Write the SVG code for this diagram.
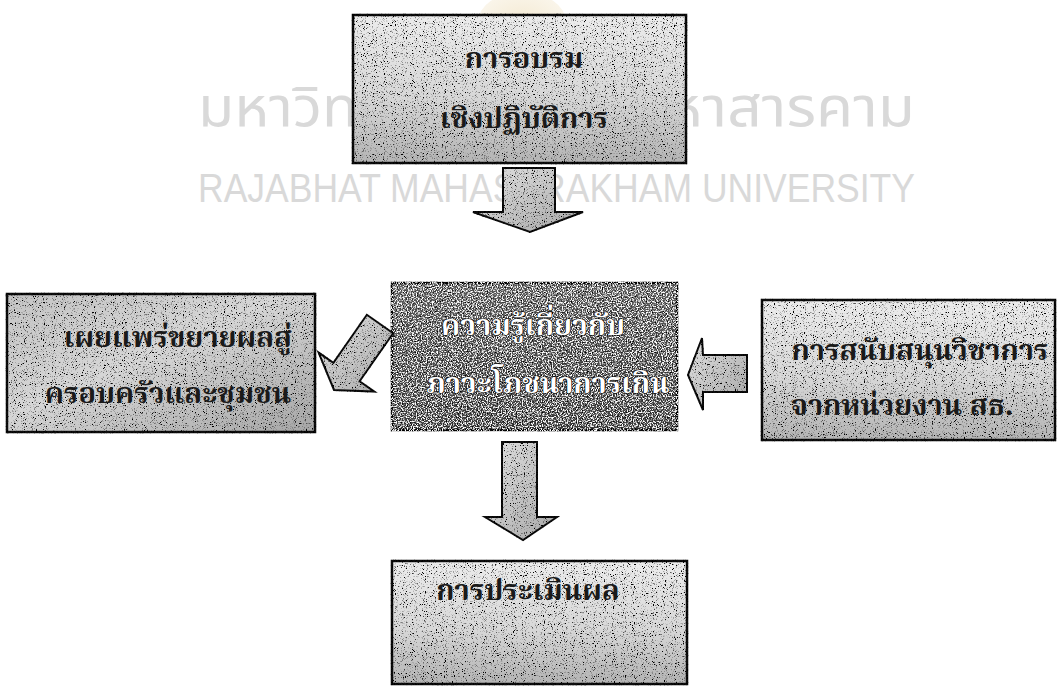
<svg xmlns="http://www.w3.org/2000/svg" width="1059" height="692" viewBox="0 0 1059 692">
  <style>
    .wm { font-family: "Noto Sans Thai", "Loma", "Garuda", "Liberation Sans", sans-serif; font-size: 56px; fill: #d9d9d9; }
    .wm-en { font-family: "Liberation Sans", Arial, sans-serif; font-size: 40px; fill: #d9d9d9; }
    .box { stroke: #111; stroke-width: 2.5; }
    .label { font-family: "Noto Serif Thai", "Noto Sans Thai", "Norasi", "Garuda", "Liberation Serif", serif; font-weight: bold; font-size: 29px; text-anchor: middle; fill: #1a1a1a; }
    .label-inv { fill: #ffffff; stroke: #000; stroke-width: 1.2px; paint-order: stroke; }
    .arrow { fill: url(#arrowFill); stroke: #111; stroke-width: 2; stroke-linejoin: miter; filter: url(#speckle); }
  </style>
  <defs>
    <linearGradient id="lightFill" x1="0" y1="0" x2="0" y2="1">
      <stop offset="0" stop-color="#ececec"/>
      <stop offset="0.55" stop-color="#d8d8d8"/>
      <stop offset="1" stop-color="#b4b4b4"/>
    </linearGradient>
    <linearGradient id="midFill" x1="0" y1="0" x2="1" y2="1">
      <stop offset="0" stop-color="#c4c4c4"/>
      <stop offset="0.45" stop-color="#d6d6d6"/>
      <stop offset="1" stop-color="#a6a6a6"/>
    </linearGradient>
    <linearGradient id="darkFill" x1="0" y1="0" x2="0" y2="1">
      <stop offset="0" stop-color="#5e5e5e"/>
      <stop offset="1" stop-color="#404040"/>
    </linearGradient>
    <linearGradient id="arrowFill" x1="0" y1="0" x2="1" y2="1">
      <stop offset="0" stop-color="#e2e2e2"/>
      <stop offset="1" stop-color="#a8a8a8"/>
    </linearGradient>
    <radialGradient id="emblemFill">
      <stop offset="0" stop-color="#f4ead3"/>
      <stop offset="1" stop-color="#faf5ea"/>
    </radialGradient>
    <!-- dark speckles laid over the shape's own paint -->
    <filter id="speckle" x="-0.05" y="-0.05" width="1.1" height="1.1">
      <feTurbulence type="fractalNoise" baseFrequency="0.9" numOctaves="2" seed="4" result="noise"/>
      <feColorMatrix in="noise" type="matrix" values="0 0 0 0 0  0 0 0 0 0  0 0 0 0 0  -6 0 0 0 2.6" result="dots"/>
      <feComposite in="dots" in2="SourceAlpha" operator="in" result="clipped"/>
      <feMerge>
        <feMergeNode in="SourceGraphic"/>
        <feMergeNode in="clipped"/>
      </feMerge>
    </filter>
    <!-- light and dark speckles for the dark box -->
    <filter id="speckleDark" x="-0.05" y="-0.05" width="1.1" height="1.1">
      <feTurbulence type="fractalNoise" baseFrequency="0.8" numOctaves="2" seed="9" result="noise"/>
      <feColorMatrix in="noise" type="matrix" values="0 0 0 0 1  0 0 0 0 1  0 0 0 0 1  5 0 0 0 -2.4" result="white"/>
      <feColorMatrix in="noise" type="matrix" values="0 0 0 0 0  0 0 0 0 0  0 0 0 0 0  -5 0 0 0 2.2" result="black"/>
      <feComposite in="white" in2="SourceAlpha" operator="in" result="w"/>
      <feComposite in="black" in2="SourceAlpha" operator="in" result="b"/>
      <feMerge>
        <feMergeNode in="SourceGraphic"/>
        <feMergeNode in="w"/>
        <feMergeNode in="b"/>
      </feMerge>
    </filter>
  </defs>

  <rect width="1059" height="692" fill="#ffffff"/>

  <!-- background watermark: emblem and university name, partly covered by the boxes -->
  <g id="watermark">
    <ellipse cx="522" cy="22" rx="44" ry="30" fill="url(#emblemFill)"/>
    <text class="wm" x="198" y="126" textLength="160" lengthAdjust="spacingAndGlyphs">มหาวิท</text>
    <text class="wm" x="667" y="126" textLength="248" lengthAdjust="spacingAndGlyphs">หาสารคาม</text>
    <text class="wm-en" x="198" y="202" textLength="717" lengthAdjust="spacingAndGlyphs">RAJABHAT MAHASARAKHAM UNIVERSITY</text>
  </g>

  <!-- nodes -->
  <g id="node-training">
    <rect class="box" x="353" y="15" width="333" height="148" fill="url(#lightFill)" filter="url(#speckle)"/>
    <text class="label" x="524" y="68">การอบรม</text>
    <text class="label" x="524" y="128">เชิงปฏิบัติการ</text>
  </g>

  <g id="node-knowledge">
    <rect class="box" x="392" y="283" width="285" height="147" fill="url(#darkFill)" filter="url(#speckleDark)"/>
    <text class="label label-inv" x="533" y="335">ความรู้เกี่ยวกับ</text>
    <text class="label label-inv" x="548" y="393">ภาวะโภชนาการเกิน</text>
  </g>

  <g id="node-dissemination">
    <rect class="box" x="7" y="294" width="308" height="138" fill="url(#midFill)" filter="url(#speckle)"/>
    <text class="label" x="178" y="347">เผยแพร่ขยายผลสู่</text>
    <text class="label" x="168" y="403">ครอบครัวและชุมชน</text>
  </g>

  <g id="node-support">
    <rect class="box" x="762" y="300" width="293" height="140" fill="url(#lightFill)" filter="url(#speckle)"/>
    <text class="label" x="920" y="360">การสนับสนุนวิชาการ</text>
    <text class="label" x="902" y="415">จากหน่วยงาน สธ.</text>
  </g>

  <g id="node-evaluation">
    <rect class="box" x="392" y="561" width="295" height="123" fill="url(#lightFill)" filter="url(#speckle)"/>
    <text class="label" x="528" y="600">การประเมินผล</text>
  </g>

  <!-- connectors: block arrows -->
  <g id="connectors">
    <polygon class="arrow" points="503,168 555,168 555,212 583,212 530,232 473,212 503,212"/>
    <polygon class="arrow" points="502,442 537,442 537,517 557,517 523,540 485,517 502,517"/>
    <polygon class="arrow" points="747,355 747,392 703,392 703,410 688,375 702,338 703,355"/>
    <polygon class="arrow" points="366.9,314.8 333.4,362.9 318.6,352.6 334,390 374.4,391.6 359.6,381.3 393.1,333.2"/>
  </g>
</svg>
